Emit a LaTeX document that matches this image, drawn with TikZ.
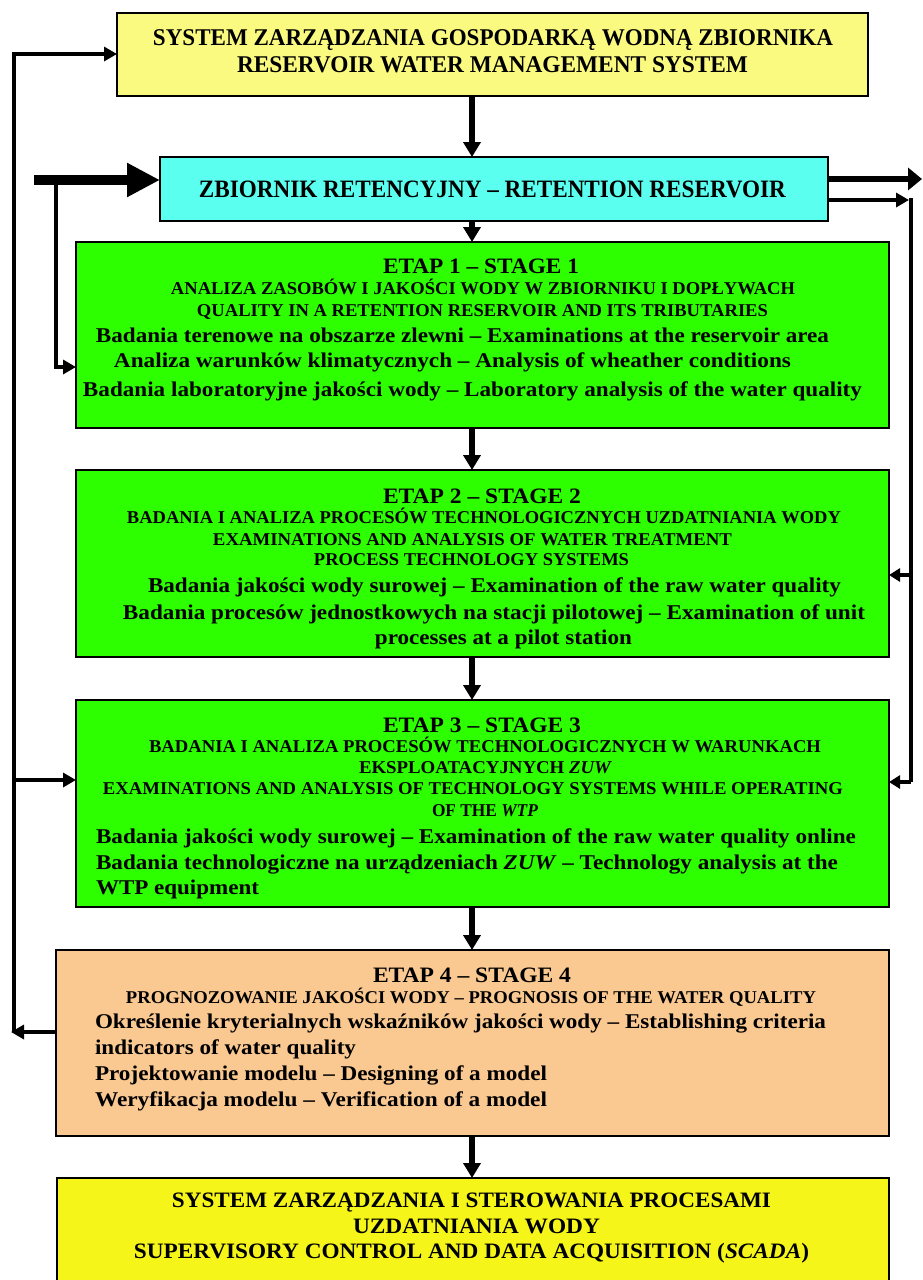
\documentclass[tikz,border=0pt]{standalone}
\usepackage{fontspec}
\setmainfont{Liberation Serif}
\usepackage{graphicx}
\usetikzlibrary{arrows.meta}
\definecolor{cTop}{RGB}{250,250,128}
\definecolor{cRes}{RGB}{90,255,240}
\definecolor{cGreen}{RGB}{45,255,0}
\definecolor{cOrange}{RGB}{250,200,145}
\definecolor{cBot}{RGB}{245,245,26}
\newcommand\fitw[2]{\resizebox{#1pt}{\height}{#2}}
\begin{document}
\begin{tikzpicture}[x=1pt,y=-1pt,
  box/.style={draw=black, line width=1.4pt, anchor=north west, inner sep=0pt, outer sep=0pt},
  txt/.style={anchor=base, inner sep=0pt, outer sep=0pt},
  txtl/.style={txt, anchor=base west},
  fTitle/.style={font=\bfseries\fontsize{24}{28}\selectfont},
  fRes/.style={font=\bfseries\fontsize{25}{29}\selectfont},
  fEtap/.style={font=\bfseries\fontsize{22}{26}\selectfont},
  fSub/.style={font=\bfseries\fontsize{18}{21}\selectfont},
  fBody/.style={font=\bfseries\fontsize{21}{25}\selectfont},
  fBot/.style={font=\bfseries\fontsize{22}{26}\selectfont},
  varr/.style={line width=6.5pt, -{Triangle[width=17pt,length=15pt]}},
  thinline/.style={line width=4.5pt},
  tarr/.style={line width=4.5pt, -{Triangle[width=14pt,length=13pt]}},
  sarr/.style={line width=4pt, -{Triangle[width=13pt,length=11pt]}},
]
\useasboundingbox (0,0) rectangle (922,1280);
\clip (0,0) rectangle (922,1280);

% boxes
\node[box, fill=cTop, minimum width=751pt, minimum height=83pt] (top) at (117,13) {};
\node[box, fill=cRes, minimum width=668pt, minimum height=64pt] (res) at (160,157) {};
\node[box, fill=cGreen, minimum width=813pt, minimum height=186pt] (s1) at (76,242) {};
\node[box, fill=cGreen, minimum width=813pt, minimum height=187pt] (s2) at (76,470) {};
\node[box, fill=cGreen, minimum width=813pt, minimum height=207pt] (s3) at (76,700) {};
\node[box, fill=cOrange, minimum width=833pt, minimum height=186pt] (s4) at (56,950) {};
\node[box, fill=cBot, minimum width=832pt, minimum height=104pt] (bot) at (57,1178) {};

% title texts
\node[txt, fTitle] (tt1) at (493,45) {\fitw{680}{SYSTEM ZARZĄDZANIA GOSPODARKĄ WODNĄ ZBIORNIKA}};
\node[txt, fTitle] (tt2) at (492.5,72) {\fitw{511}{RESERVOIR WATER MANAGEMENT SYSTEM}};
\node[txt, fRes] (tr1) at (492.5,197) {\fitw{587}{ZBIORNIK RETENCYJNY – RETENTION RESERVOIR}};

% stage 1
\node[txt, fEtap] (a1) at (481,273) {\fitw{196}{ETAP 1 – STAGE 1}};
\node[txt, fSub] (a2) at (483,294) {\fitw{624}{ANALIZA ZASOBÓW I JAKOŚCI WODY W ZBIORNIKU I DOPŁYWACH}};
\node[txt, fSub] (a3) at (482.5,316) {\fitw{571}{QUALITY IN A RETENTION RESERVOIR AND ITS TRIBUTARIES}};
\node[txt, fBody] (a4) at (462.5,342) {\fitw{733}{Badania terenowe na obszarze zlewni – Examinations at the reservoir area}};
\node[txt, fBody] (a5) at (452.5,367) {\fitw{677}{Analiza warunków klimatycznych – Analysis of wheather conditions}};
\node[txt, fBody] (a6) at (472.5,396) {\fitw{779}{Badania laboratoryjne jakości wody – Laboratory analysis of the water quality}};

% stage 2
\node[txt, fEtap] (b1t) at (482,503) {\fitw{198}{ETAP 2 – STAGE 2}};
\node[txt, fSub] (b2t) at (484,523) {\fitw{714}{BADANIA I ANALIZA PROCESÓW TECHNOLOGICZNYCH UZDATNIANIA WODY}};
\node[txt, fSub] (b3t) at (472.5,545) {\fitw{519}{EXAMINATIONS AND ANALYSIS OF WATER TREATMENT}};
\node[txt, fSub] (b4t) at (471.5,565) {\fitw{315}{PROCESS TECHNOLOGY SYSTEMS}};
\node[txt, fBody] (b5t) at (494.5,592) {\fitw{693}{Badania jakości wody surowej – Examination of the raw water quality}};
\node[txt, fBody] (b6t) at (494,619) {\fitw{742}{Badania procesów jednostkowych na stacji pilotowej – Examination of unit}};
\node[txt, fBody] (b7t) at (503.5,644) {\fitw{257}{processes at a pilot station}};

% stage 3
\node[txt, fEtap] (c1) at (482,732) {\fitw{198}{ETAP 3 – STAGE 3}};
\node[txt, fSub] (c2) at (485,752) {\fitw{672}{BADANIA I ANALIZA PROCESÓW TECHNOLOGICZNYCH W WARUNKACH}};
\node[txt, fSub] (c3) at (485.5,773) {\fitw{253}{EKSPLOATACYJNYCH \textit{ZUW}}};
\node[txt, fSub] (c4) at (473,794) {\fitw{740}{EXAMINATIONS AND ANALYSIS OF TECHNOLOGY SYSTEMS WHILE OPERATING}};
\node[txt, fSub] (c5) at (485,816) {\fitw{106}{OF THE \textit{WTP}}};
\node[txtl, fBody] (c6) at (96,843) {\fitw{760}{Badania jakości wody surowej – Examination of the raw water quality online}};
\node[txtl, fBody] (c7) at (96,869) {\fitw{742}{Badania technologiczne na urządzeniach \textit{ZUW} – Technology analysis at the}};
\node[txtl, fBody] (c8) at (96,894) {\fitw{163}{WTP equipment}};

% stage 4
\node[txt, fEtap] (d1) at (472,982) {\fitw{198}{ETAP 4 – STAGE 4}};
\node[txt, fSub] (d2) at (471,1003) {\fitw{690}{PROGNOZOWANIE JAKOŚCI WODY – PROGNOSIS OF THE WATER QUALITY}};
\node[txtl, fBody] (d3) at (95,1028) {\fitw{731}{Określenie kryterialnych wskaźników jakości wody – Establishing criteria}};
\node[txtl, fBody] (d4) at (95,1054) {\fitw{261}{indicators of water quality}};
\node[txtl, fBody] (d5) at (95,1080) {\fitw{452}{Projektowanie modelu – Designing of a model}};
\node[txtl, fBody] (d6) at (95,1106) {\fitw{452}{Weryfikacja modelu – Verification of a model}};

% bottom
\node[txt, fBot] (e1) at (471.5,1207) {\fitw{599}{SYSTEM ZARZĄDZANIA I STEROWANIA PROCESAMI}};
\node[txt, fBot] (e2) at (476.5,1233) {\fitw{247}{UZDATNIANIA WODY}};
\node[txt, fBot] (e3) at (471.5,1258) {\fitw{675}{SUPERVISORY CONTROL AND DATA ACQUISITION (\textit{SCADA})}};

% vertical chain arrows
\coordinate (ax) at (472,0);
\draw[varr] (ax |- top.south) -- (ax |- res.north);
\draw[varr] (ax |- res.south) -- (ax |- s1.north);
\draw[varr] (ax |- s1.south) -- (ax |- s2.north);
\draw[varr] (ax |- s2.south) -- (ax |- s3.north);
\draw[varr] (ax |- s3.south) -- (ax |- s4.north);
\draw[varr] (ax |- s4.south) -- (ax |- bot.north);

% big inflow arrow
\coordinate (lin) at (34,180);
\draw[line width=10pt, -{Triangle[width=32pt,length=33pt]}] (lin) -- (lin -| res.west);
\coordinate (br1) at (56,180);
\coordinate (br2) at (56,367);
\draw[tarr] (br1) -- (br2) -- (br2 -| s1.west);

% far-left feedback loop
\coordinate (L1) at (14,1032);
\coordinate (L1t) at (11,1032);
\coordinate (L2) at (14,54);
\coordinate (L3) at (14,780);
\draw[tarr] (s4.west |- L1) -- (L1t);
\draw[tarr] (L1) -- (L2) -- (L2 -| top.west);
\draw[tarr] (L3) -- (L3 -| s3.west);

% right side
\coordinate (R0) at (922,179);
\draw[line width=6pt, -{Triangle[width=22pt,length=14pt]}] (res.east |- R0) -- (R0);
\coordinate (R1) at (909,200);
\draw[tarr] (res.east |- R1) -- (R1);
\coordinate (Rt) at (911,198);
\coordinate (Rb) at (911,782);
\coordinate (Rm) at (911,575);
\draw[thinline] (Rt) -- (Rb);
\draw[sarr] (Rm) -- (Rm -| s2.east);
\draw[sarr] (Rb) -- (Rb -| s3.east);
\end{tikzpicture}
\end{document}
